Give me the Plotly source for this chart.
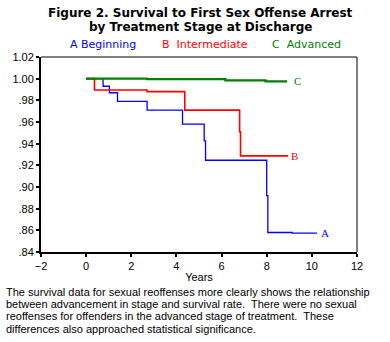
import plotly.graph_objects as go

# Step data (years, survival proportion)
years_a = [0, 0.75, 1.03, 1.39, 2.7, 4.27, 5.23, 5.29, 8.0, 8.05, 9.13, 10.23]
surv_a = [1.0, 0.993, 0.987, 0.979, 0.971, 0.958, 0.9425, 0.9247, 0.892, 0.858, 0.8575, 0.8575]

years_b = [0, 0.37, 2.7, 4.37, 6.8, 6.84, 8.95]
surv_b = [1.0, 0.9895, 0.988, 0.971, 0.951, 0.9287, 0.9287]

years_c = [0, 2.7, 6.17, 7.95, 8.9]
surv_c = [1.0, 0.9996, 0.9985, 0.9975, 0.9975]

series_names = ["Beginning", "Intermediate", "Advanced"]
series_letters = ["A", "B", "C"]
series_colors = ["#0000ff", "#ff0000", "#007f00"]

y_tickvals = [0.84, 0.86, 0.88, 0.90, 0.92, 0.94, 0.96, 0.98, 1.00, 1.02]
y_ticktext = [".84", ".86", ".88", ".90", ".92", ".94", ".96", ".98", "1.00", "1.02"]
x_tickvals = [-2, 0, 2, 4, 6, 8, 10, 12]

body_lines = [
    "The survival data for sexual reoffenses more clearly shows the relationship",
    "between advancement in stage and survival rate.  There were no sexual",
    "reoffenses for offenders in the advanced stage of treatment.  These",
    "differences also approached statistical significance.",
]

fig = go.Figure()
for xs, ys, col, w in [(years_a, surv_a, series_colors[0], 1.3),
                       (years_b, surv_b, series_colors[1], 1.6),
                       (years_c, surv_c, series_colors[2], 2.2)]:
    fig.add_trace(go.Scatter(x=xs, y=ys, mode="lines", line=dict(color=col, width=w, shape="hv"),
                             showlegend=False, hoverinfo="skip"))

# End labels
for xs, ys, col, letter, dx in [(years_a, surv_a, series_colors[0], "A", 0.35),
                                (years_b, surv_b, series_colors[1], "B", 0.3),
                                (years_c, surv_c, series_colors[2], "C", 0.45)]:
    fig.add_annotation(x=xs[-1] + dx, y=ys[-1], text=letter, showarrow=False,
                       xanchor="center", yanchor="middle",
                       font=dict(family="Liberation Serif", size=11, color=col))

fig.update_layout(
    width=390, height=342,
    margin=dict(l=41, r=33, t=57, b=90),
    paper_bgcolor="white", plot_bgcolor="white",
    font=dict(family="Liberation Sans", size=11, color="black"),
    xaxis=dict(range=[-2, 12], tickvals=x_tickvals, showgrid=False, zeroline=False,
               showline=True, linewidth=2, linecolor="black",
               ticks="outside", ticklen=3, tickwidth=2, tickcolor="black",
               title=dict(text="Years", standoff=2, font=dict(size=11))),
    yaxis=dict(range=[0.84, 1.02], tickvals=y_tickvals, ticktext=y_ticktext,
               showgrid=False, zeroline=False,
               showline=True, linewidth=2, linecolor="black",
               ticks="outside", ticklen=3, tickwidth=2, tickcolor="black"),
)

# top and right frame lines
fig.add_shape(type="line", xref="paper", yref="paper", x0=0, x1=1, y0=1, y1=1,
              line=dict(color="black", width=1))
fig.add_shape(type="line", xref="paper", yref="paper", x0=1, x1=1, y0=0, y1=1,
              line=dict(color="black", width=1))

# Title
fig.add_annotation(xref="paper", yref="paper", x=(200 - 41) / 316, y=1 + (57 - 13) / 195,
                   text="<b>Figure 2. Survival to First Sex Offense Arrest</b>", showarrow=False,
                   xanchor="center", yanchor="middle",
                   font=dict(family="DejaVu Sans", size=12, color="black"))
fig.add_annotation(xref="paper", yref="paper", x=(200 - 41) / 316, y=1 + (57 - 27) / 195,
                   text="<b>by Treatment Stage at Discharge</b>", showarrow=False,
                   xanchor="center", yanchor="middle",
                   font=dict(family="DejaVu Sans", size=12, color="black"))

# Legend labels
for px, letter, name, col in [(68, "A", series_names[0], series_colors[0]),
                              (160, "B", series_names[1], series_colors[1]),
                              (270, "C", series_names[2], series_colors[2])]:
    fig.add_annotation(xref="paper", yref="paper", x=(px - 41) / 316, y=1 + (57 - 44) / 195,
                       text=letter + "&nbsp;&nbsp;" + name if letter != "A" else letter + " " + name,
                       showarrow=False, xanchor="left", yanchor="middle",
                       font=dict(family="DejaVu Sans", size=11, color=col))

# Body text, one annotation per line
for i, line in enumerate(body_lines):
    yc = 292 + i * 12.2
    fig.add_annotation(xref="paper", yref="paper", x=(4 - 41) / 316, y=-(yc - 252) / 195,
                       text=line.replace("  ", "&nbsp; "), showarrow=False,
                       xanchor="left", yanchor="middle", align="left",
                       font=dict(family="Liberation Sans", size=11, color="black"))

fig.write_html("out.html")
